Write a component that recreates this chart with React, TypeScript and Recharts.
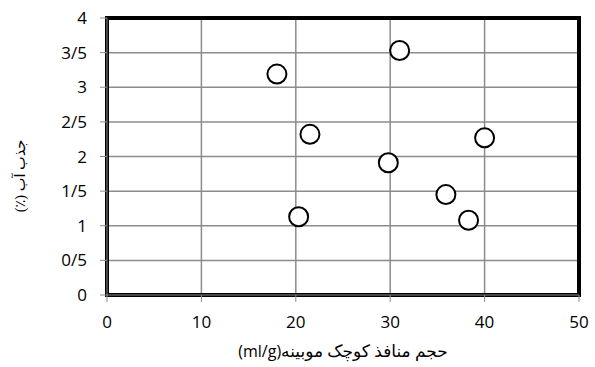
import { ScatterChart, Scatter, XAxis, YAxis, CartesianGrid, ReferenceArea, Label } from 'recharts'

const poreVolume = [18.0, 21.5, 20.3, 31.0, 29.8, 35.9, 38.3, 40.0]
const waterAbsorption = [3.19, 2.32, 1.13, 3.53, 1.91, 1.45, 1.08, 2.27]
const xTicks = [0, 10, 20, 30, 40, 50]
const yTicks = [0, 0.5, 1, 1.5, 2, 2.5, 3, 3.5, 4]

const xTitle = 'حجم منافذ کوچک موبینه'
const xUnit = '(ml/g)'
const yTitle = 'جذب آب (٪)'

const data = poreVolume.map((x, i) => ({ x, y: waterAbsorption[i] }))

const tickFont = { fontSize: 17, fill: '#000', fontFamily: '"Open Sans", sans-serif' }
const persianFont = '"Liberation Serif", "DejaVu Sans", serif'

function Ring(props: any) {
  const { cx, cy } = props
  return <circle cx={cx} cy={cy} r={9.5} fill="#fff" stroke="#000" strokeWidth={2} />
}

export default function App() {
  return (
    <div style={{ position: 'absolute', left: 0, top: 0, width: 595, height: 367, background: '#fff' }}>
      <ScatterChart width={595} height={367} margin={{ top: 18, right: 16, left: 0, bottom: 0 }}>
        <CartesianGrid stroke="#8c8c8c" strokeWidth={1.5} />
        <XAxis
          type="number"
          dataKey="x"
          domain={[0, 50]}
          ticks={xTicks}
          height={72}
          tick={tickFont}
          tickSize={7}
          tickMargin={14}
          tickLine={{ stroke: '#8c8c8c' }}
          axisLine={{ stroke: '#8c8c8c' }}
        >
          <Label
            content={() => (
              <text
                x={343}
                y={357}
                textAnchor="middle"
                direction="rtl"
                style={{ direction: 'rtl', unicodeBidi: 'plaintext' }}
                fontSize={17}
                fontFamily={persianFont}
                fill="#000"
              >
                {xTitle}
                <tspan fontFamily='"Open Sans", sans-serif' fontSize={16}>{xUnit}</tspan>
              </text>
            )}
          />
        </XAxis>
        <YAxis
          type="number"
          dataKey="y"
          domain={[0, 4]}
          ticks={yTicks}
          width={107}
          tick={tickFont}
          tickFormatter={(v: number) => String(v).replace('.', '/')}
          tickSize={7}
          tickMargin={13}
          tickLine={{ stroke: '#8c8c8c' }}
          axisLine={{ stroke: '#8c8c8c' }}
        >
          <Label
            content={() => (
              <text
                x={0}
                y={0}
                transform="translate(25,176) rotate(-90)"
                textAnchor="middle"
                direction="rtl"
                style={{ direction: 'rtl', unicodeBidi: 'plaintext' }}
                fontSize={14.5}
                fontFamily={persianFont}
                fill="#000"
              >
                {yTitle}
              </text>
            )}
          />
        </YAxis>
        <ReferenceArea x1={0} x2={50} y1={0} y2={4} fill="none" stroke="#000" strokeWidth={4} ifOverflow="visible" />
        <Scatter data={data} shape={Ring} isAnimationActive={false} />
      </ScatterChart>
    </div>
  )
}
